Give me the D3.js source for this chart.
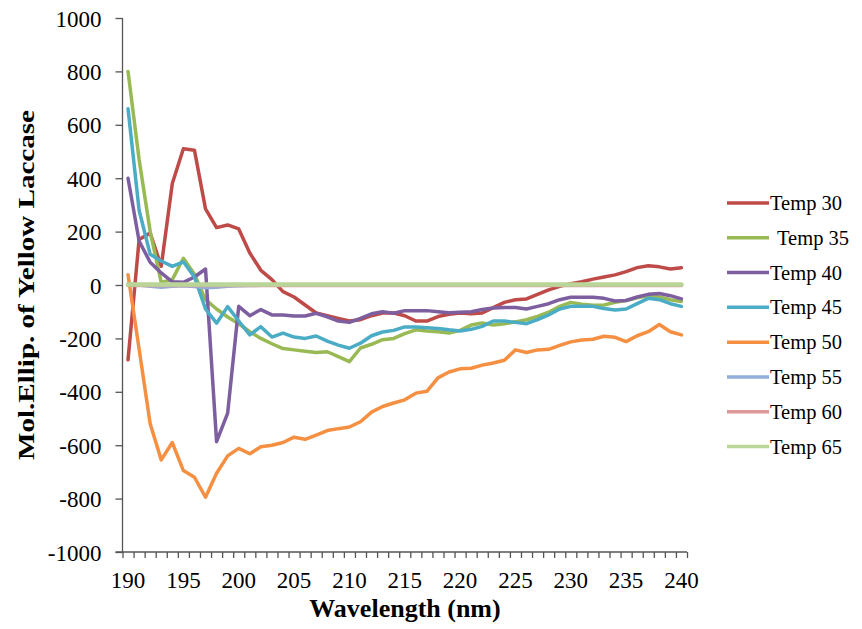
<!DOCTYPE html>
<html lang="en">
    <head>
        <meta charset="utf-8">
        <title>Mol. Ellip. of Yellow Laccase</title>
        <script src="https://cdnjs.cloudflare.com/ajax/libs/d3/7.8.5/d3.min.js"></script>
        <style>
            body { margin: 0; background: #fff; }
            text { font-family: "Liberation Serif", "Times New Roman", serif; fill: #000; }
        </style>
        <script>
            // wavelengths (nm), one category per nm
            const wavelengths = [190,191,192,193,194,195,196,197,198,199,200,201,202,203,204,205,206,207,208,209,210,
                211,212,213,214,215,216,217,218,219,220,221,222,223,224,225,226,227,228,229,230,
                231,232,233,234,235,236,237,238,239,240];

            const seriesNames = ["Temp 30","Temp 35","Temp 40","Temp 45","Temp 50","Temp 55","Temp 60","Temp 65"];

            const temp30 = [-280,170,195,70,380,510,505,285,215,225,210,120,55,20,-25,-45,-75,-105,-115,-125,-135,
                -130,-115,-105,-105,-115,-135,-135,-118,-110,-105,-108,-105,-85,-65,-55,-52,-35,-18,-5,5,
                12,22,30,38,50,65,72,68,60,65];
            const temp35 = [800,470,200,10,20,100,40,-55,-90,-120,-145,-175,-200,-220,-238,-243,-248,-253,-250,-268,-287,
                -236,-222,-205,-200,-182,-168,-172,-175,-180,-170,-150,-142,-150,-145,-138,-130,-118,-102,-80,-65,
                -72,-76,-75,-65,-58,-48,-40,-45,-55,-62];
            const temp40 = [400,165,85,45,12,10,30,60,-587,-480,-80,-115,-92,-112,-112,-116,-116,-106,-119,-135,-140,
                -125,-108,-100,-106,-96,-96,-96,-100,-104,-102,-100,-92,-86,-84,-84,-90,-80,-70,-55,-46,
                -46,-46,-50,-60,-58,-45,-35,-32,-40,-52];
            const temp45 = [660,280,115,90,70,87,30,-90,-143,-81,-135,-187,-156,-195,-180,-195,-200,-191,-210,-225,-237,
                -218,-190,-176,-170,-157,-157,-160,-163,-168,-172,-166,-155,-135,-135,-140,-145,-130,-112,-90,-80,
                -80,-80,-88,-94,-90,-70,-50,-55,-70,-80];
            const temp50 = [38,-240,-520,-655,-590,-695,-720,-795,-705,-640,-612,-632,-606,-600,-590,-570,-578,-562,-545,-538,-532,
                -512,-476,-455,-442,-430,-405,-398,-348,-326,-314,-312,-300,-292,-282,-243,-253,-243,-241,-226,-213,
                -206,-203,-192,-196,-212,-190,-175,-148,-175,-187];
            const temp55 = [5,0,-5,-8,-5,-3,-6,-10,-8,-5,-3,-2,-1,0,0,0,0,0,0,0,0,
                0,0,0,0,0,0,0,0,0,0,0,0,0,0,0,0,0,0,0,0,
                0,0,0,0,0,0,0,0,0,0];
            const temp60 = [-2,-2,-2,-2,-2,-2,-2,-2,-2,-2,-2,-2,-2,-2,-2,-2,-2,-2,-2,-2,-2,
                -2,-2,-2,-2,-2,-2,-2,-2,-2,-2,-2,-2,-2,-2,-2,-2,-2,-2,-2,-2,
                -2,-2,-2,-2,-2,-2,-2,-2,-2,-2];
            const temp65 = [2,2,2,2,2,2,2,2,2,2,2,2,2,2,2,2,2,2,2,2,2,
                2,2,2,2,2,2,2,2,2,2,2,2,2,2,2,2,2,2,2,2,
                2,2,2,2,2,2,2,2,2,2];

            const yTicks = [-1000,-800,-600,-400,-200,0,200,400,600,800,1000];
            const xTickLabels = [190,195,200,205,210,215,220,225,230,235,240];

            document.addEventListener('DOMContentLoaded', function(){
                const w = 862;
                const h = 629;
                const allSeries = [temp30, temp35, temp40, temp45, temp50, temp55, temp60, temp65];
                const colors = ["#BE4B48","#98B954","#7D5FA0","#4BACC6","#F58F42","#93AEDB","#DB9896","#B9D597"];
                const widths = [3.5,3.5,3.5,3.5,3.5,3.5,3.5,4.5];

                const svg = d3.select("#chart")
                    .append("svg")
                    .attr("width", w)
                    .attr("height", h);

                const left = 122.5, right = 687, top = 18, bottom = 552;

                const xScale = d3.scaleBand()
                    .domain(wavelengths)
                    .range([left, right])
                    .padding(0);
                const idxScale = d3.scaleLinear()
                    .domain([0, wavelengths.length])
                    .range([left, right]);
                const yScale = d3.scaleLinear()
                    .domain([-1000, 1000])
                    .range([bottom, top]);

                // y axis
                const yAxis = d3.axisLeft(yScale)
                    .tickValues(yTicks)
                    .tickFormat(d => String(d))
                    .tickSize(7)
                    .tickPadding(14);
                const yg = svg.append("g")
                    .attr("transform", `translate(${left},0)`)
                    .call(yAxis);
                yg.select(".domain").remove();
                yg.append("line")
                    .attr("x1", 0).attr("x2", 0)
                    .attr("y1", top).attr("y2", bottom)
                    .attr("stroke", "#555").attr("stroke-width", 1.3);
                yg.selectAll(".tick line").attr("stroke", "#555").attr("stroke-width", 1.3);
                yg.selectAll(".tick text")
                    .style("font-size", "23px")
                    .style("font-family", "'Liberation Serif', serif")
                    .attr("dy", "0.35em");

                // x axis: minor ticks at category boundaries
                const xMinor = d3.axisBottom(idxScale)
                    .tickValues(d3.range(wavelengths.length + 1))
                    .tickFormat("")
                    .tickSize(6);
                const xg = svg.append("g")
                    .attr("transform", `translate(0,${bottom})`)
                    .call(xMinor);
                xg.select(".domain").remove();
                xg.append("line")
                    .attr("x1", left - 7).attr("x2", right)
                    .attr("y1", 0).attr("y2", 0)
                    .attr("stroke", "#555").attr("stroke-width", 1.3);
                xg.selectAll(".tick line").attr("stroke", "#555").attr("stroke-width", 1.3);

                // x labels every 5 nm
                const xLab = d3.axisBottom(xScale)
                    .tickValues(xTickLabels)
                    .tickSize(0)
                    .tickPadding(20);
                const xl = svg.append("g")
                    .attr("transform", `translate(0,${bottom})`)
                    .call(xLab);
                xl.select(".domain").remove();
                xl.selectAll(".tick text")
                    .style("font-size", "23px")
                    .style("font-family", "'Liberation Serif', serif");

                // lines
                const line = d3.line()
                    .x((d, i) => xScale(wavelengths[i]) + xScale.bandwidth() / 2)
                    .y(d => yScale(d));
                svg.append("g")
                    .selectAll("path")
                    .data(allSeries)
                    .enter()
                    .append("path")
                    .attr("d", line)
                    .attr("fill", "none")
                    .attr("stroke", (d, i) => colors[i])
                    .attr("stroke-width", (d, i) => widths[i])
                    .attr("stroke-linejoin", "round")
                    .attr("stroke-linecap", "round");

                // axis titles
                svg.append("text")
                    .attr("x", 405)
                    .attr("y", 617)
                    .attr("text-anchor", "middle")
                    .style("font-size", "26px")
                    .style("font-weight", "bold")
                    .text("Wavelength (nm)");
                svg.append("text")
                    .attr("transform", "translate(34,285) rotate(-90)")
                    .attr("text-anchor", "middle")
                    .attr("textLength", 350)
                    .attr("lengthAdjust", "spacingAndGlyphs")
                    .style("font-size", "24px")
                    .style("font-weight", "bold")
                    .text("Mol.Ellip. of Yellow Laccase");

                // legend
                const legY = d3.scaleLinear().domain([0, 7]).range([203, 446.5]);
                const legend = svg.append("g")
                    .selectAll("g")
                    .data(seriesNames)
                    .enter()
                    .append("g")
                    .attr("transform", (d, i) => `translate(727,${legY(i)})`);
                legend.append("line")
                    .attr("x1", 0).attr("x2", 42)
                    .attr("stroke", (d, i) => colors[i])
                    .attr("stroke-width", 3.5);
                legend.append("text")
                    .attr("x", (d, i) => i == 1 ? 50 : 43)
                    .attr("y", 7)
                    .style("font-size", "20.5px")
                    .text(d => d);
            });
        </script>
    </head>
    <body>
        <div id="chart"></div>
    </body>
</html>
